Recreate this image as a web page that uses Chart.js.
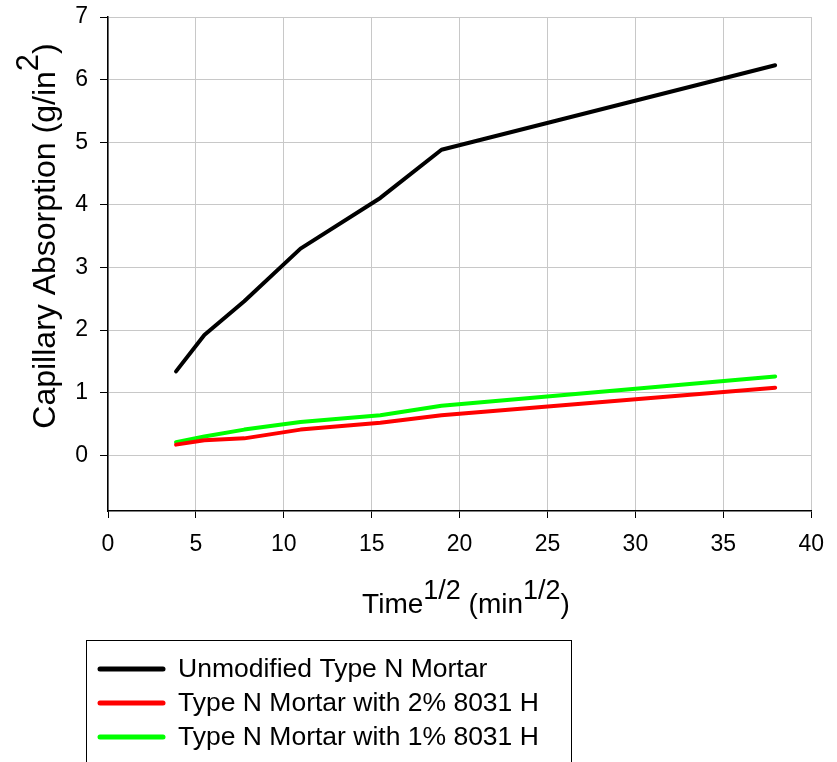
<!DOCTYPE html>
<html>
<head>
<meta charset="utf-8">
<script src="https://cdn.jsdelivr.net/npm/chart.js@4.4.1/dist/chart.umd.min.js"></script>
<style>
  html, body { margin: 0; padding: 0; background: #fff; }
  #wrap { width: 837px; height: 762px; position: relative; }
</style>
</head>
<body>
<div id="wrap"><canvas id="chart" width="837" height="762"></canvas></div>
<script>
// square root of time (min^1/2) at each reading
var timeRoot = [3.87, 5.48, 7.75, 10.95, 15.49, 18.97, 37.95];

// capillary absorption (g/in^2)
var unmodified = [1.34, 1.92, 2.46, 3.30, 4.11, 4.88, 6.23];
var twoPercent = [0.17, 0.24, 0.27, 0.41, 0.52, 0.64, 1.08];
var onePercent = [0.21, 0.30, 0.41, 0.53, 0.64, 0.79, 1.26];

var seriesNames = ['Unmodified Type N Mortar', 'Type N Mortar with 2% 8031 H', 'Type N Mortar with 1% 8031 H'];
var seriesColors = ['#000000', '#ff0000', '#00ff00'];

var xTicks = [0, 5, 10, 15, 20, 25, 30, 35, 40];
var yTicks = [0, 1, 2, 3, 4, 5, 6, 7];

var FONT = 'Liberation Sans, Arial, sans-serif';

function toPoints(ys) {
    return ys.map(function (y, i) { return { x: timeRoot[i], y: y }; });
}

// draws text pieces, some raised as superscripts
function drawRich(ctx, pieces, x, y) {
    var cx = x;
    pieces.forEach(function (p) {
        ctx.font = p.size + 'px ' + FONT;
        ctx.fillText(p.text, cx, y - (p.raise || 0));
        cx += ctx.measureText(p.text).width;
    });
}
function richWidth(ctx, pieces) {
    var w = 0;
    pieces.forEach(function (p) {
        ctx.font = p.size + 'px ' + FONT;
        w += ctx.measureText(p.text).width;
    });
    return w;
}

var extras = {
    id: 'extras',
    afterDraw: function (chart) {
        var ctx = chart.ctx;
        ctx.save();
        ctx.fillStyle = '#000';
        ctx.textBaseline = 'alphabetic';
        ctx.textAlign = 'left';

        // x axis title
        var xt = [
            { text: 'Time', size: 28 },
            { text: '1/2', size: 27, raise: 14 },
            { text: ' (min', size: 28 },
            { text: '1/2', size: 27, raise: 14 },
            { text: ')', size: 28 }
        ];
        var w = richWidth(ctx, xt);
        drawRich(ctx, xt, 466 - w / 2, 613);

        // y axis title
        var yt = [
            { text: 'Capillary Absorption (g/in', size: 32 },
            { text: '2', size: 31, raise: 17 },
            { text: ')', size: 32 }
        ];
        var wy = richWidth(ctx, yt);
        ctx.translate(55, 236);
        ctx.rotate(-Math.PI / 2);
        drawRich(ctx, yt, -wy / 2, 0);
        ctx.setTransform(1, 0, 0, 1, 0, 0);

        // legend box
        ctx.strokeStyle = '#000';
        ctx.lineWidth = 1;
        ctx.strokeRect(86.5, 640.5, 485, 140);
        ctx.font = '26.5px ' + FONT;
        ctx.textBaseline = 'middle';
        chart.data.datasets.forEach(function (ds, i) {
            var y = 669 + i * 34;
            ctx.strokeStyle = ds.borderColor;
            ctx.lineWidth = 5;
            ctx.lineCap = 'round';
            ctx.beginPath();
            ctx.moveTo(100, y);
            ctx.lineTo(163, y);
            ctx.stroke();
            ctx.fillText(ds.label, 178, y + 1);
        });
        ctx.restore();
    }
};

new Chart(document.getElementById('chart'), {
    type: 'line',
    data: {
        datasets: [unmodified, twoPercent, onePercent].map(function (ys, i) {
            return {
                label: seriesNames[i],
                data: toPoints(ys),
                borderColor: seriesColors[i],
                backgroundColor: seriesColors[i],
                borderWidth: 4,
                pointRadius: 0,
                tension: 0,
                borderCapStyle: 'round',
                borderJoinStyle: 'round'
            };
        })
    },
    options: {
        responsive: false,
        animation: false,
        events: [],
        layout: { padding: { left: 0, right: 25, top: 17, bottom: 0 } },
        plugins: {
            legend: { display: false },
            tooltip: { enabled: false }
        },
        scales: {
            x: {
                type: 'linear',
                min: 0,
                max: 40,
                afterBuildTicks: function (scale) {
                    scale.ticks = xTicks.map(function (v) { return { value: v }; });
                },
                afterFit: function (scale) { scale.height = 251; },
                grid: { color: '#c8c8c8', lineWidth: 1, tickColor: '#000', tickLength: 7 },
                border: { color: '#000', width: 1.5 },
                ticks: { color: '#000', padding: 13, maxRotation: 0, font: { family: FONT, size: 23 } }
            },
            y: {
                type: 'linear',
                min: -0.89,
                max: 7,
                afterBuildTicks: function (scale) {
                    scale.ticks = yTicks.map(function (v) { return { value: v }; });
                },
                afterFit: function (scale) {
                    scale.width = 108;
                    scale.paddingTop = 0;
                    scale.paddingBottom = 0;
                },
                grid: { color: '#c8c8c8', lineWidth: 1, tickColor: '#000', tickLength: 8 },
                border: { color: '#000', width: 1.5 },
                ticks: { color: '#000', padding: 12, font: { family: FONT, size: 23, lineHeight: 1 } }
            }
        }
    },
    plugins: [extras]
});
</script>
</body>
</html>
